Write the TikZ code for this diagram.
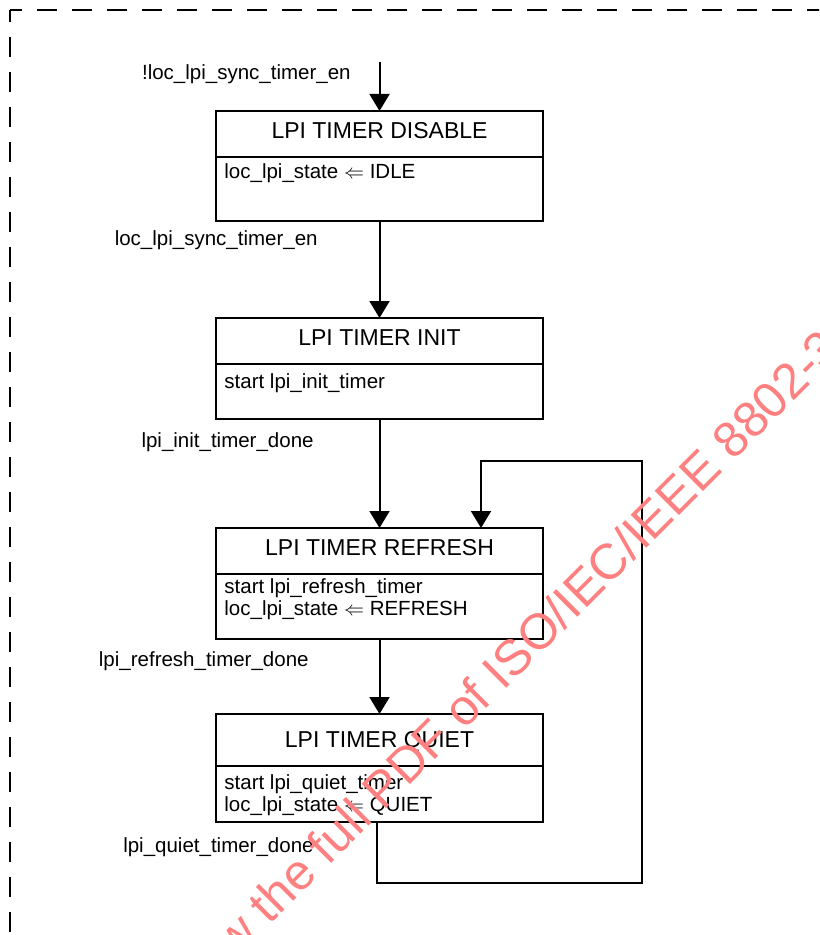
\documentclass[tikz,border=0pt]{standalone}
\usepackage{fontspec}
\setmainfont{Liberation Sans}
\usetikzlibrary{arrows.meta}

\definecolor{wmred}{RGB}{255,128,128}

\tikzset{
  state/.style={draw, line width=1.1pt, minimum width=163.5pt, inner sep=0pt, outer sep=0pt},
  divider/.style={line width=1.1pt},
  ttl/.style={font=\fontsize{11.5}{13}\selectfont, inner sep=0pt, anchor=base},
  txt/.style={font=\fontsize{10.25}{11}\selectfont, inner sep=0pt, align=left, anchor=north west},
  cond/.style={font=\fontsize{10.25}{12}\selectfont, inner sep=0pt, anchor=base east},
  trans/.style={line width=1pt, -{Triangle[length=8.5pt,width=10pt]}},
  frame/.style={line width=1.2pt, dash pattern=on 10pt off 7.5pt, dash phase=4pt},
  wmark/.style={text=wmred, font=\fontsize{25}{30}\selectfont, inner sep=0pt}
}

\begin{document}
\begin{tikzpicture}[x=0.5pt,y=-0.5pt]
  \useasboundingbox (0,0) rectangle (819,935);
  \clip (0,0) rectangle (819,935);

  \draw[frame] (10,10) -- (900,10);
  \draw[frame] (10,10) -- (10,1000);

  \node[state, minimum height=55pt] (disable) at (379.5,166) {};
  \node[state, minimum height=50.5pt] (init) at (379.5,368.5) {};
  \node[state, minimum height=55.5pt] (refresh) at (379.5,583.5) {};
  \node[state, minimum height=54pt] (quiet) at (379.5,768) {};

  \draw[divider] ([yshift=-23pt]disable.north west) -- ([yshift=-23pt]disable.north east);
  \draw[divider] ([yshift=-23pt]init.north west) -- ([yshift=-23pt]init.north east);
  \draw[divider] ([yshift=-23pt]refresh.north west) -- ([yshift=-23pt]refresh.north east);
  \draw[divider] ([yshift=-26pt]quiet.north west) -- ([yshift=-26pt]quiet.north east);

  \node[ttl] (disableT) at (379.5,138.5) {LPI TIMER DISABLE};
  \node[ttl] (initT) at (379.5,345.5) {LPI TIMER INIT};
  \node[ttl] (refreshT) at (379.5,555.5) {LPI TIMER REFRESH};
  \node[ttl] (quietT) at (379.5,747) {LPI TIMER QUIET};

  \node[txt] (disableA) at (224,163) {loc\_lpi\_state $\Leftarrow$ IDLE};
  \node[txt] (initA) at (224,373) {start lpi\_init\_timer};
  \node[txt] (refreshA) at (224,578) {start lpi\_refresh\_timer\\loc\_lpi\_state $\Leftarrow$ REFRESH};
  \node[txt] (quietA) at (224,774) {start lpi\_quiet\_timer\\loc\_lpi\_state $\Leftarrow$ QUIET};

  \node[cond] (offL) at (351,80) {!loc\_lpi\_sync\_timer\_en};
  \node[cond] (enL) at (318,246) {loc\_lpi\_sync\_timer\_en};
  \node[cond] (initL) at (314,447) {lpi\_init\_timer\_done};
  \node[cond] (refreshL) at (309,666) {lpi\_refresh\_timer\_done};
  \node[cond] (quietL) at (314,852) {lpi\_quiet\_timer\_done};

  \coordinate (entry) at (379.5,62);
  \coordinate (loopR) at (642,883);
  \coordinate (loopT) at (642,461);

  \draw[trans] (entry) -- (disable.north);
  \draw[trans] (disable.south) -- (init.north);
  \draw[trans] (init.south) -- (refresh.north);
  \draw[trans] (refresh.south) -- (quiet.north);
  \draw[trans] ([xshift=-1.5pt]quiet.south) |- (loopR) -- (loopT) -| ([xshift=50.75pt]refresh.north);

  \node[wmark, rotate=45, anchor=base west] (wm) at (189,1006) {view the full PDF of ISO/IEC/IEEE 8802-3};
\end{tikzpicture}
\end{document}
